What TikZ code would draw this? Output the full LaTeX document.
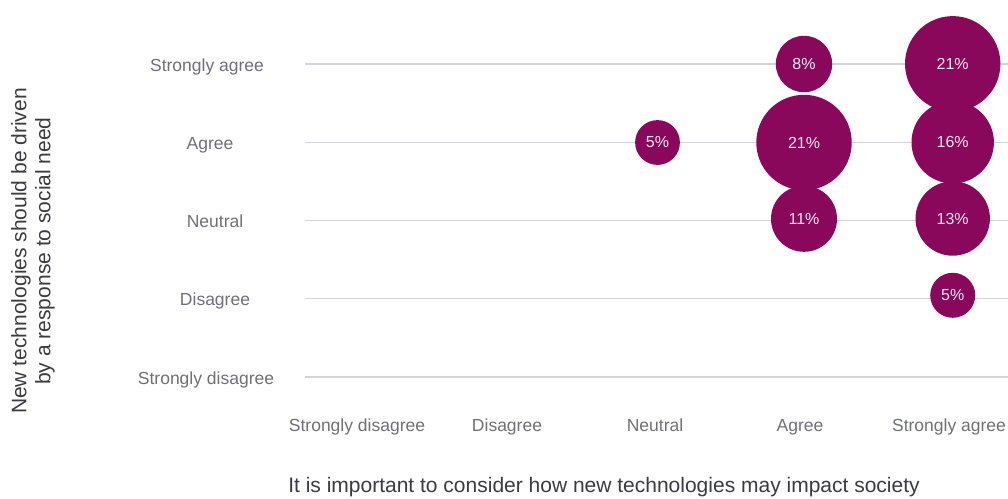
\documentclass[tikz,border=0pt]{standalone}
\usepackage{fontspec}
\setmainfont{Liberation Sans}
\definecolor{bubble}{HTML}{8A085C}
\definecolor{gridc}{HTML}{D3D2DE}
\definecolor{ticktext}{HTML}{6F6F7A}
\definecolor{titletext}{HTML}{3A3A44}
\begin{document}
\begin{tikzpicture}[x=1pt,y=-1pt,
  bub/.style={circle,fill=bubble,inner sep=0pt,text=white!92!bubble,font=\fontsize{16}{18}\selectfont},
  ytick/.style={text=ticktext,anchor=base,font=\fontsize{17.5}{20}\selectfont},
  xtick/.style={text=ticktext,anchor=base,font=\fontsize{17.5}{20}\selectfont},
  gline/.style={draw=gridc,line width=1.1pt},
  atitle/.style={text=titletext,font=\fontsize{21}{24}\selectfont,align=center}]
\useasboundingbox (0,0) rectangle (1008,498);
% grid lines
\foreach \yy in {64,142.5,220.5,298.5,377} \draw[gline] (305,\yy) -- (1008,\yy);
% y tick labels
\node[ytick] (ysa) at (207,71) {Strongly agree};
\node[ytick] (ya) at (210,149.5) {Agree};
\node[ytick] (yn) at (215,227.5) {Neutral};
\node[ytick] (yd) at (215,305.5) {Disagree};
\node[ytick] (ysd) at (206,384) {Strongly disagree};
% x tick labels
\node[xtick] (xsd) at (357,431.5) {Strongly disagree};
\node[xtick] (xd) at (507,431.5) {Disagree};
\node[xtick] (xn) at (655,431.5) {Neutral};
\node[xtick] (xa) at (800,431.5) {Agree};
\node[xtick] (xsa) at (949,431.5) {Strongly agree};
% axis titles
\node[atitle,rotate=90] (ytitle) at (33,251) {New technologies should be driven\\by a response to social need};
\node[atitle,anchor=base,inner sep=0pt] (xtitle) at (604,492) {It is important to consider how new technologies may impact society};
% bubbles
\node[bub,minimum size=44.8pt] (b1) at (657.5,142.5) {5\%};
\node[bub,minimum size=56.4pt] (b2) at (804,64) {8\%};
\node[bub,minimum size=95.4pt] (b3) at (804,142.5) {21\%};
\node[bub,minimum size=66pt] (b4) at (804,218.8) {11\%};
\node[bub,minimum size=95.4pt] (b5) at (952.7,63.8) {21\%};
\node[bub,minimum size=82.4pt] (b6) at (952.7,142.3) {16\%};
\node[bub,minimum size=74.4pt] (b7) at (952.7,218.5) {13\%};
\node[bub,minimum size=45pt] (b8) at (952.7,295.3) {5\%};
\end{tikzpicture}
\end{document}
